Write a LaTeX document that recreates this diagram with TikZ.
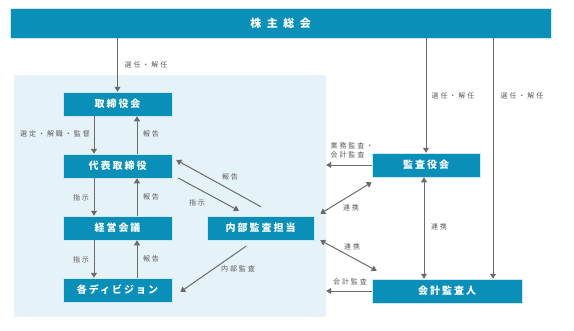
\documentclass[tikz,border=0pt]{standalone}
\usepackage{fontspec}
\newfontfamily\jplbl{Noto Sans CJK JP}[LetterSpace=28]
\newfontfamily\jpsp{Noto Sans CJK JP}[LetterSpace=20]
\newfontfamily\jptop{Noto Sans CJK JP}[LetterSpace=50]
\usetikzlibrary{arrows.meta,calc}
\definecolor{boxblue}{HTML}{0A90B8}
\definecolor{panelblue}{HTML}{E5F2F8}
\definecolor{arrowgray}{HTML}{6B6B6B}
\definecolor{labelgray}{HTML}{5A5A5A}
\tikzset{
  orgbox/.style={fill=boxblue, draw=white!80!boxblue, line width=0.5pt, text=white, font=\jpsp\bfseries\fontsize{10}{12}\selectfont, minimum height=24pt, inner sep=0pt},
  lbl/.style={text=labelgray, font=\jplbl\fontsize{7}{9}\selectfont, inner sep=0pt},
  conn/.style={draw=arrowgray, line width=1pt, -{Triangle[width=6pt,length=5pt]}},
  biconn/.style={draw=arrowgray, line width=1pt, {Triangle[width=6pt,length=5pt]}-{Triangle[width=6pt,length=5pt]}}
}
\begin{document}
\begin{tikzpicture}[x=1pt,y=-1pt]
\useasboundingbox (0,0) rectangle (574,330);
% panel
\node[fill=panelblue, minimum width=312pt, minimum height=242pt, inner sep=0pt] (panel) at (170,196) {};
% boxes
\node[orgbox, minimum width=541pt, minimum height=30pt, font=\jptop\bfseries\fontsize{11}{13}\selectfont] (top) at (280.5,23) {株主総会};
\node[orgbox, minimum width=109pt] (tori) at (117.5,104) {取締役会};
\node[orgbox, minimum width=109pt] (daihyo) at (117.5,166) {代表取締役};
\node[orgbox, minimum width=109pt] (keiei) at (117.5,228) {経営会議};
\node[orgbox, minimum width=109pt] (div) at (117.5,290) {各ディビジョン};
\node[orgbox, minimum width=107pt] (naibu) at (260.5,228) {内部監査担当};
\node[orgbox, minimum width=108pt] (kansa) at (426,165) {監査役会};
\node[orgbox, minimum width=150pt] (kaikei) at (447,291) {会計監査人};
% labels
\node[lbl] (l1) at (146,65) {選任・解任};
\node[lbl] (l2) at (453,96) {選任・解任};
\node[lbl] (l3) at (522,96) {選任・解任};
\node[lbl] (l4) at (55,134) {選定・解職・監督};
\node[lbl] (l5) at (151,134) {報告};
\node[lbl] (l6) at (81,198) {指示};
\node[lbl] (l7) at (151,197) {報告};
\node[lbl] (l8) at (81,260) {指示};
\node[lbl] (l9) at (151,259) {報告};
\node[lbl] (l10) at (230,177) {報告};
\node[lbl] (l11) at (197,203) {指示};
\node[lbl] (l12) at (238,269) {内部監査};
\node[lbl, align=left] (l13) at (352,150) {業務監査・\\会計監査};
\node[lbl] (l14) at (350,282) {会計監査};
\node[lbl] (l15) at (439,227) {連携};
\node[lbl] (l16) at (351,208) {連携};
\node[lbl] (l17) at (352,247) {連携};
% connectors
\draw[conn] (tori.north |- top.south) -- (tori.north);
\draw[conn] ([xshift=-23.5pt]tori.south) -- ([xshift=-23.5pt]daihyo.north);
\draw[conn] ([xshift=19.5pt]daihyo.north) -- ([xshift=19.5pt]tori.south);
\draw[conn] ([xshift=-23.5pt]daihyo.south) -- ([xshift=-23.5pt]keiei.north);
\draw[conn] ([xshift=19.5pt]keiei.north) -- ([xshift=19.5pt]daihyo.south);
\draw[conn] ([xshift=-23.5pt]keiei.south) -- ([xshift=-23.5pt]div.north);
\draw[conn] ([xshift=19.5pt]div.north) -- ([xshift=19.5pt]keiei.south);
\draw[conn] ([shift={(0.5,-9)}]naibu.north) -- ([shift={(4,-6)}]daihyo.east);
\draw[conn] ([shift={(6,12)}]daihyo.east) -- ([shift={(-21.5,-5)}]naibu.north);
\draw[conn] ([shift={(-14.5,6)}]naibu.south) -- ([shift={(8,2)}]div.east);
\draw[conn] (kansa.north |- top.south) -- (kansa.north);
\draw[conn] ([xshift=46pt]kaikei.north |- top.south) -- ([xshift=46pt]kaikei.north);
\draw[conn] (kansa.west) -- (kansa.west -| panel.east);
\draw[conn] (kaikei.west) -- (kaikei.west -| panel.east);
\draw[biconn] ([xshift=-2pt]kansa.south) -- ([xshift=-2pt]kansa.south |- kaikei.north);
\draw[biconn] ([shift={(0,5)}]kansa.south west) -- ([shift={(6,-2)}]naibu.north east);
\draw[biconn] ([shift={(6,0)}]naibu.south east) -- ([shift={(5,-8)}]kaikei.north west);
\end{tikzpicture}
\end{document}
